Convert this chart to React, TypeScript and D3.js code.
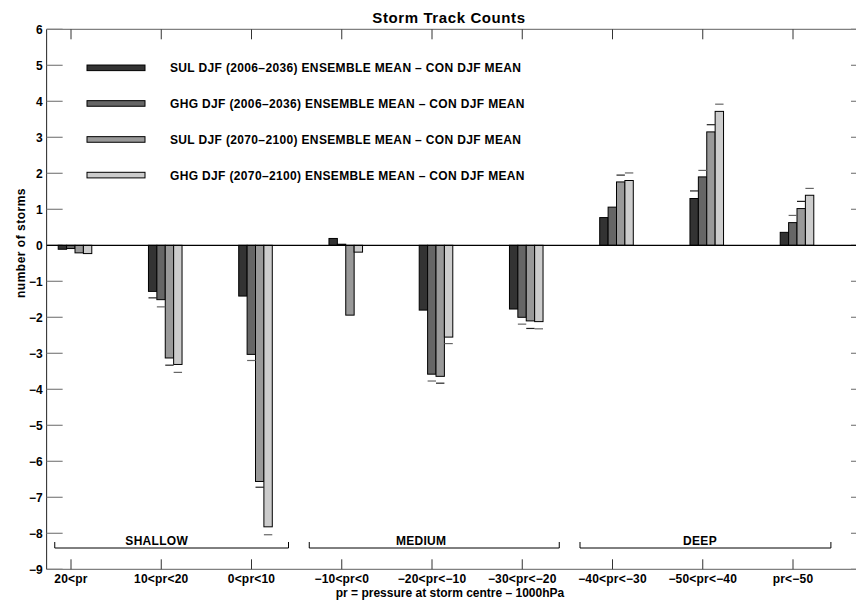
import React, { useEffect, useRef } from "react";
import * as d3 from "d3";

// categories (pressure bins)
const categories = [
  "20<pr",
  "10<pr<20",
  "0<pr<10",
  "\u221210<pr<0",
  "\u221220<pr<\u221210",
  "\u221230<pr<\u221220",
  "\u221240<pr<\u221230",
  "\u221250<pr<\u221240",
  "pr<\u221250",
];

const seriesNames = [
  "SUL DJF (2006\u20132036) ENSEMBLE MEAN \u2013 CON DJF MEAN",
  "GHG DJF (2006\u20132036) ENSEMBLE MEAN \u2013 CON DJF MEAN",
  "SUL DJF (2070\u20132100) ENSEMBLE MEAN \u2013 CON DJF MEAN",
  "GHG DJF (2070\u20132100) ENSEMBLE MEAN \u2013 CON DJF MEAN",
];

const sulEarly = [-0.11, -1.28, -1.41, 0.19, -1.8, -1.77, 0.77, 1.3, 0.36];
const ghgEarly = [-0.09, -1.51, -3.03, 0.03, -3.58, -2.0, 1.06, 1.9, 0.63];
const sulLate = [-0.21, -3.13, -6.56, -1.94, -3.64, -2.1, 1.76, 3.15, 1.02];
const ghgLate = [-0.23, -3.31, -7.82, -0.19, -2.55, -2.12, 1.8, 3.72, 1.39];

// spread marks (null where none is drawn)
const sulEarlyErr = [null, -1.46, null, null, null, null, null, 1.51, null];
const ghgEarlyErr = [null, -1.71, -3.2, null, -3.77, -2.19, null, 2.08, 0.83];
const sulLateErr = [null, -3.33, -6.72, null, -3.83, -2.31, 1.95, 3.35, 1.22];
const ghgLateErr = [null, -3.53, -8.04, null, -2.73, -2.32, 2.01, 3.92, 1.58];

const yTicks = d3.range(-9, 7);

const groupNames = ["SHALLOW", "MEDIUM", "DEEP"];
const groupSpans = [[0.82, 3.41], [3.64, 6.41], [6.64, 9.42]];
const groupLabelAt = [1.95, 4.88, 7.97];

const fills = ["#333333", "#666666", "#999999", "#cccccc"];
const font = "'Liberation Sans', Arial, Helvetica, sans-serif";

const App = () => {
  const svgRef = useRef(null);

  useEffect(() => {
    const svg = d3.select(svgRef.current);
    svg.selectAll("*").remove();

    const values = [sulEarly, ghgEarly, sulLate, ghgLate];
    const errs = [sulEarlyErr, ghgEarlyErr, sulLateErr, ghgLateErr];

    const x = d3.scaleLinear().domain([1, 9]).range([71, 793]);
    const y = d3.scaleLinear().domain([-9, 6]).range([569.3, 29.3]);
    const xlim = [0.73, 9.82];
    const left = x(xlim[0]);
    const right = x(xlim[1]);
    const top = y(6);
    const bottom = y(-9);

    const step = x(2) - x(1);
    const bw = step * 0.093;
    const shift = 4;

    const label = (sel, size, spacing) =>
      sel.attr("font-family", font)
        .attr("font-weight", "bold")
        .attr("font-size", size)
        .attr("letter-spacing", spacing);

    // frame
    svg.append("line").attr("x1", left).attr("x2", right).attr("y1", top).attr("y2", top)
      .attr("stroke", "#808080").attr("stroke-width", 1.2);
    svg.append("line").attr("x1", left).attr("x2", right).attr("y1", bottom).attr("y2", bottom)
      .attr("stroke", "#808080").attr("stroke-width", 1.2);
    svg.append("line").attr("x1", left).attr("x2", left).attr("y1", top).attr("y2", bottom)
      .attr("stroke", "#222").attr("stroke-width", 1);
    svg.append("line").attr("x1", right).attr("x2", right).attr("y1", top).attr("y2", bottom)
      .attr("stroke", "#222").attr("stroke-width", 1);

    // y ticks, both sides, inward
    yTicks.forEach((t) => {
      svg.append("line").attr("x1", left).attr("x2", left + 16).attr("y1", y(t)).attr("y2", y(t))
        .attr("stroke", "#808080").attr("stroke-width", 1.2);
      svg.append("line").attr("x1", right - 16).attr("x2", right).attr("y1", y(t)).attr("y2", y(t))
        .attr("stroke", "#808080").attr("stroke-width", 1.2);
      svg.append("text")
        .attr("x", left - 4)
        .attr("y", y(t))
        .attr("dy", "0.36em")
        .attr("text-anchor", "end")
        .call(label, 12, 0)
        .text(t < 0 ? "\u2212" + Math.abs(t) : String(t));
    });

    // x ticks
    categories.forEach((c, i) => {
      const cx = x(i + 1);
      svg.append("line").attr("x1", cx).attr("x2", cx).attr("y1", bottom).attr("y2", bottom - 10)
        .attr("stroke", "#333").attr("stroke-width", 1);
      svg.append("line").attr("x1", cx).attr("x2", cx).attr("y1", top).attr("y2", top + 10)
        .attr("stroke", "#333").attr("stroke-width", 1);
      svg.append("text")
        .attr("x", cx)
        .attr("y", 582.5)
        .attr("text-anchor", "middle")
        .call(label, 12, 0.2)
        .text(c);
    });

    // bars
    values.forEach((vals, j) => {
      svg.append("g").selectAll("rect")
        .data(vals)
        .enter().append("rect")
        .attr("x", (d, i) => x(i + 1) + shift - 2 * bw + j * bw)
        .attr("y", (d) => y(Math.max(0, d)))
        .attr("width", bw)
        .attr("height", (d) => Math.abs(y(d) - y(0)))
        .attr("fill", fills[j])
        .attr("stroke", "#000")
        .attr("stroke-width", 1);
    });

    // spread marks
    errs.forEach((vals, j) => {
      vals.forEach((e, i) => {
        if (e === null) return;
        const x0 = x(i + 1) + shift - 2 * bw + j * bw;
        svg.append("line")
          .attr("x1", x0).attr("x2", x0 + bw)
          .attr("y1", y(e)).attr("y2", y(e))
          .attr("stroke", j % 2 === 0 ? "#222" : "#666")
          .attr("stroke-width", 1.2);
      });
    });

    // zero line
    svg.append("line").attr("x1", left).attr("x2", right).attr("y1", y(0)).attr("y2", y(0))
      .attr("stroke", "#000").attr("stroke-width", 1.2);

    // group brackets
    groupNames.forEach((g, k) => {
      const [a, b] = groupSpans[k];
      const ly = 548;
      svg.append("path")
        .attr("d", `M${x(a)},${ly - 6}V${ly}H${x(b)}V${ly - 6}`)
        .attr("fill", "none")
        .attr("stroke", "#000")
        .attr("stroke-width", 1);
      svg.append("text")
        .attr("x", x(groupLabelAt[k]))
        .attr("y", 545)
        .attr("text-anchor", "middle")
        .call(label, 12, 0.3)
        .text(g);
    });

    // legend
    const legendRows = [4.93, 3.94, 2.94, 1.95];
    seriesNames.forEach((name, j) => {
      const cy = y(legendRows[j]);
      svg.append("rect")
        .attr("x", 87).attr("y", cy - 2.8)
        .attr("width", 58).attr("height", 5.6)
        .attr("fill", fills[j])
        .attr("stroke", "#000")
        .attr("stroke-width", 1);
      svg.append("text")
        .attr("x", 170)
        .attr("y", cy + 4.5)
        .call(label, 12, 0.35)
        .text(name);
    });

    // titles
    svg.append("text")
      .attr("x", 449)
      .attr("y", 23)
      .attr("text-anchor", "middle")
      .call(label, 15, 0.6)
      .text("Storm Track Counts");

    svg.append("text")
      .attr("x", 450)
      .attr("y", 597)
      .attr("text-anchor", "middle")
      .call(label, 12, 0)
      .text("pr = pressure at storm centre \u2013 1000hPa");

    svg.append("text")
      .attr("transform", "rotate(-90)")
      .attr("x", -243)
      .attr("y", 25)
      .attr("text-anchor", "middle")
      .call(label, 12, 0.5)
      .text("number of storms");
  }, []);

  return (
    <svg
      ref={svgRef}
      width={856}
      height={600}
      style={{ position: "absolute", left: 0, top: 0, background: "#fff" }}
    ></svg>
  );
};

export default App;
